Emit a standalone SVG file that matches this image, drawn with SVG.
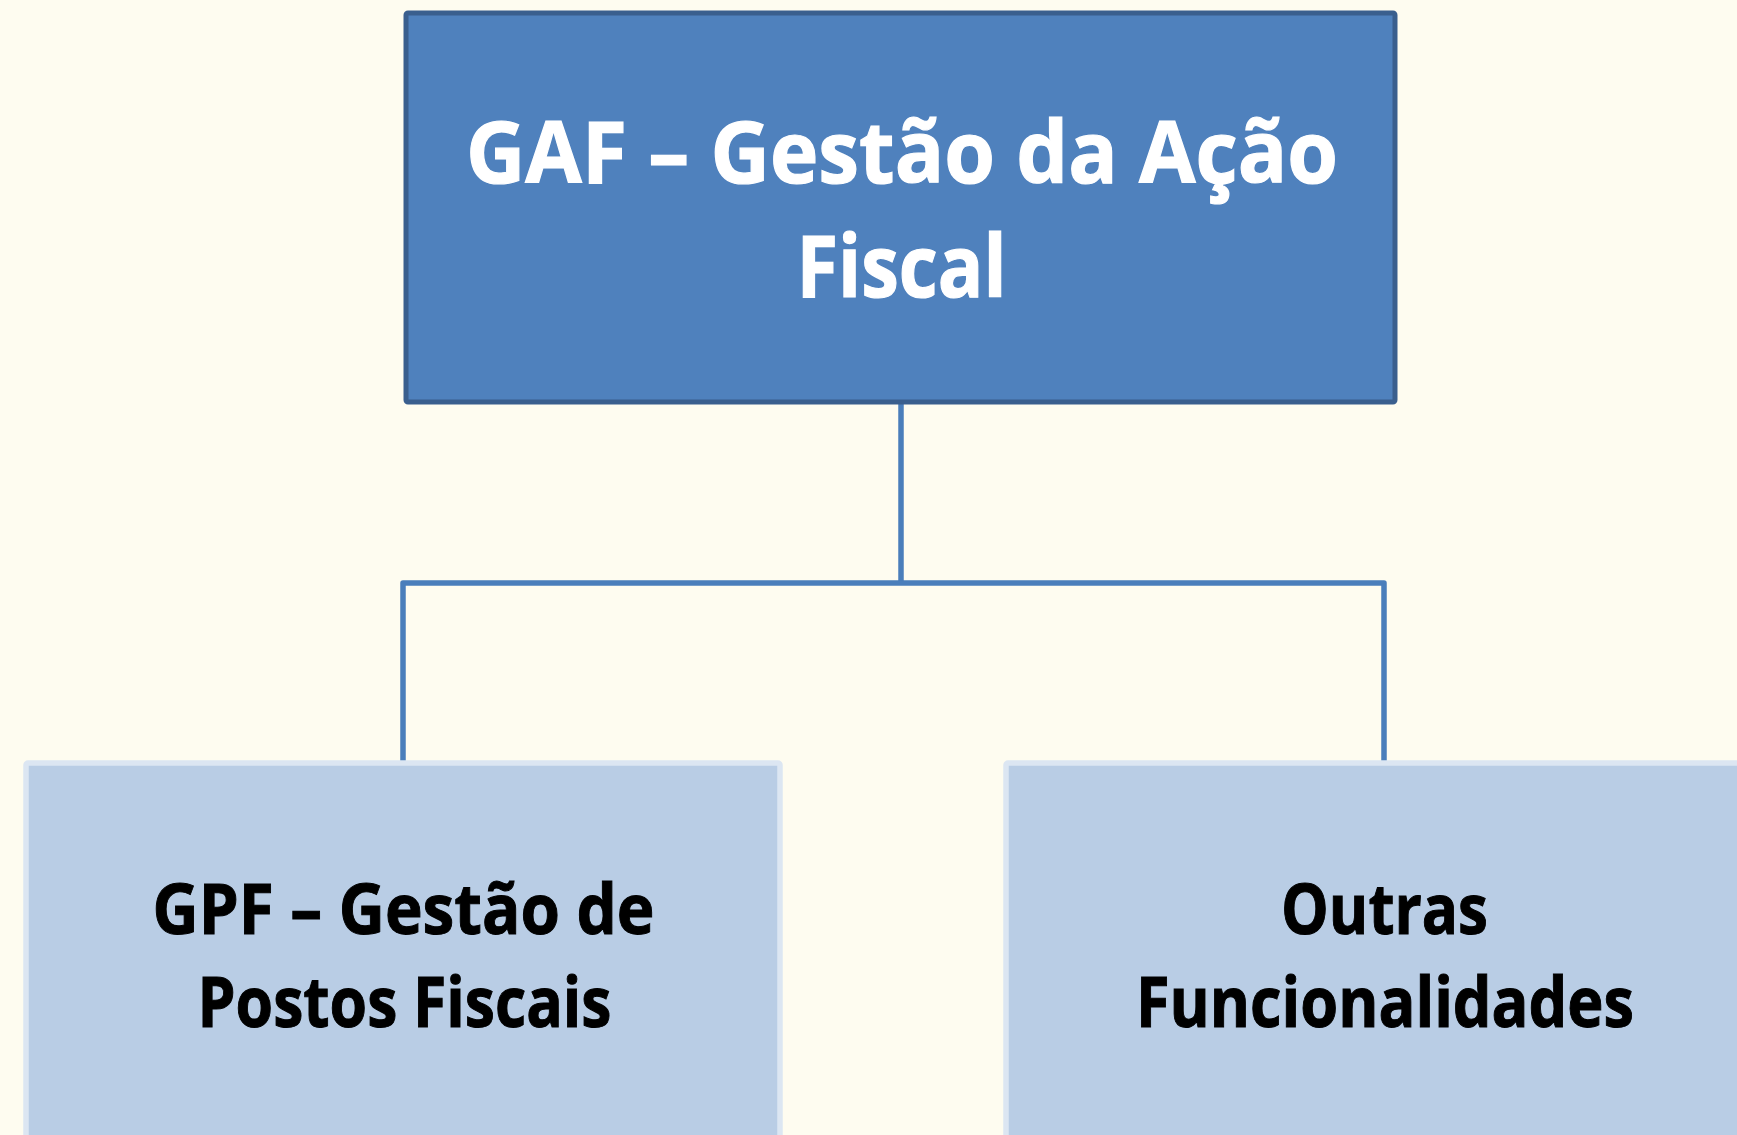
<svg xmlns="http://www.w3.org/2000/svg" width="1737" height="1135" viewBox="0 0 1737 1135">
<style>
.top{fill:#4F81BD;stroke:#3A5F8E;stroke-width:5}
.sub{fill:#B9CDE5;stroke:#DCE6F2;stroke-width:5.5}
.conn{fill:none;stroke:#4A7EBB;stroke-width:5.5;stroke-linejoin:round}
.t{font-family:"Open Sans","Noto Sans","Liberation Sans",sans-serif;font-weight:700;text-anchor:middle}
.tw{fill:#FFFFFF;stroke:#FFFFFF;stroke-width:1.2;font-size:86px}
.tb{fill:#000000;stroke:#000000;stroke-width:1;font-size:69px}
</style>
<rect width="1737" height="1135" fill="#FEFCF0"/>
<g id="connectors">
<path class="conn" d="M901,404 V583"/>
<path class="conn" d="M403,763 V583 H1384 V763"/>
</g>
<g id="gaf">
<rect class="top" x="406" y="13" width="989" height="389" rx="2"/>
<text class="t tw" x="902" y="183" textLength="872" lengthAdjust="spacingAndGlyphs">GAF – Gestão da Ação</text>
<text class="t tw" x="901.5" y="297" textLength="210" lengthAdjust="spacingAndGlyphs">Fiscal</text>
</g>
<g id="gpf">
<rect class="sub" x="26" y="763" width="754" height="420" rx="2"/>
<text class="t tb" x="403.5" y="934" textLength="502" lengthAdjust="spacingAndGlyphs">GPF – Gestão de</text>
<text class="t tb" x="404.5" y="1027" textLength="414" lengthAdjust="spacingAndGlyphs">Postos Fiscais</text>
</g>
<g id="outras">
<rect class="sub" x="1006" y="763" width="800" height="420" rx="2"/>
<text class="t tb" x="1384.5" y="934" textLength="207" lengthAdjust="spacingAndGlyphs">Outras</text>
<text class="t tb" x="1385" y="1027" textLength="498" lengthAdjust="spacingAndGlyphs">Funcionalidades</text>
</g>
</svg>
